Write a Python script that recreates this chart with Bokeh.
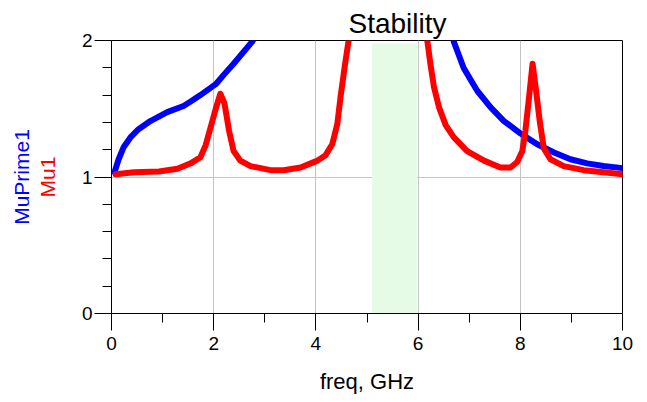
from bokeh.plotting import figure
from bokeh.models import Range1d, FixedTicker, Title
from bokeh.embed import file_html
from bokeh.resources import INLINE

# ---- data ----
freq_muprime = [0.06, 0.14, 0.24, 0.37, 0.53, 0.76, 1.09, 1.41, 1.58, 1.74, 2.04,
                2.2, 2.39, 2.75, 3.0, 3.5, 4.0, 4.5, 5.0, 5.5, 6.0, 6.4, 6.70,
                6.80, 6.89, 7.03, 7.16, 7.42, 7.68, 8.0, 8.33, 8.66, 8.98, 9.31,
                9.63, 10.0]
muprime1 = [1.035, 1.13, 1.22, 1.29, 1.35, 1.41, 1.475, 1.52, 1.56, 1.60, 1.68,
            1.75, 1.83, 1.99, 2.15, 2.6, 3.4, 4.8, 7.0, 8.0, 4.0, 2.5, 1.99,
            1.89, 1.80, 1.71, 1.63, 1.51, 1.41, 1.32, 1.24, 1.18, 1.13, 1.10,
            1.08, 1.065]

freq_mu = [0.08, 0.44, 0.93, 1.29, 1.55, 1.74, 1.84, 1.94, 2.04, 2.13, 2.21,
           2.30, 2.39, 2.52, 2.72, 3.11, 3.37, 3.70, 4.03, 4.19, 4.32, 4.42,
           4.48, 4.56, 4.64, 4.8, 5.0, 5.5, 6.0, 6.1, 6.18, 6.24, 6.31, 6.41,
           6.54, 6.70, 6.96, 7.29, 7.61, 7.81, 7.94, 8.04, 8.10, 8.17, 8.24,
           8.31, 8.38, 8.46, 8.59, 8.85, 9.24, 9.63, 10.0]
mu1 = [1.02, 1.035, 1.04, 1.06, 1.10, 1.145, 1.23, 1.365, 1.50, 1.61, 1.54,
       1.34, 1.19, 1.12, 1.08, 1.05, 1.05, 1.07, 1.12, 1.16, 1.24, 1.39,
       1.58, 1.80, 2.0, 3.0, 5.0, 9.0, 4.0, 2.6, 2.0, 1.83, 1.66, 1.51,
       1.38, 1.29, 1.19, 1.12, 1.07, 1.07, 1.11, 1.19, 1.34, 1.58, 1.83,
       1.63, 1.41, 1.21, 1.13, 1.08, 1.05, 1.035, 1.02]

band_left = [5.1]
band_right = [5.98]
band_bottom = [-0.04]
band_top = [1.98]

x_ticks = [0, 2, 4, 6, 8, 10]
x_minor = [1, 3, 5, 7, 9]
y_ticks = [0, 1, 2]
y_minor = [0.2, 0.4, 0.6, 0.8, 1.2, 1.4, 1.6, 1.8]

FONT = "Liberation Sans"

p = figure(width=647, height=402, output_backend="svg", toolbar_location=None,
           x_range=Range1d(0, 10), y_range=Range1d(0, 2),
           min_border_left=111, min_border_right=25, min_border_top=40,
           min_border_bottom=89, background_fill_color="white",
           border_fill_color="white")

p.outline_line_color = "black"
p.outline_line_width = 1
p.outline_line_alpha = 1

# title
p.title.text = "Stability"
p.title.text_font = FONT
p.title.text_font_size = "28px"
p.title.text_font_style = "normal"
p.title.text_color = "black"
p.title.align = "left"
p.title.offset = 237
p.title.standoff = 3

# band
p.quad(left=band_left, right=band_right, bottom=band_bottom, top=band_top,
       fill_color="#e6fbe6", line_color=None)

# lines
p.line(freq_muprime, muprime1, line_color="blue", line_width=6,
       line_join="round", line_cap="round")
p.line(freq_mu, mu1, line_color="red", line_width=6,
       line_join="round", line_cap="round")

# axes
for ax in (p.xaxis[0], p.yaxis[0]):
    ax.axis_line_color = "black"
    ax.major_tick_line_color = "black"
    ax.minor_tick_line_color = "black"
    ax.major_tick_in = 0
    ax.minor_tick_in = 0
    ax.major_tick_out = 17
    ax.minor_tick_out = 9
    ax.major_label_text_font = FONT
    ax.major_label_text_font_size = "19px"
    ax.major_label_text_color = "black"
    ax.axis_label_text_font = FONT
    ax.axis_label_text_font_style = "normal"

p.xaxis.ticker = FixedTicker(ticks=x_ticks, minor_ticks=x_minor)
p.yaxis.ticker = FixedTicker(ticks=y_ticks, minor_ticks=y_minor)
p.xaxis.major_label_standoff = 6
p.yaxis.major_label_standoff = 2

p.xaxis.axis_label = "freq, GHz"
p.xaxis.axis_label_text_font_size = "22px"
p.xaxis.axis_label_text_color = "black"
p.xaxis.axis_label_standoff = 16

p.yaxis.axis_label = "Mu1"
p.yaxis.axis_label_text_font_size = "21px"
p.yaxis.axis_label_text_color = "red"
p.yaxis.axis_label_standoff = 20

p.add_layout(Title(text="MuPrime1", text_color="blue", text_font=FONT,
                   text_font_size="21px", text_font_style="normal",
                   align="center", standoff=0), "left")

# grids
p.xgrid.ticker = FixedTicker(ticks=[2, 4, 6, 8])
p.ygrid.ticker = FixedTicker(ticks=[1])
p.xgrid.grid_line_color = "#c4c4c4"
p.ygrid.grid_line_color = "#c4c4c4"
p.xgrid.grid_line_width = 1
p.ygrid.grid_line_width = 1

open("out.html", "w").write(file_html(p, INLINE))
